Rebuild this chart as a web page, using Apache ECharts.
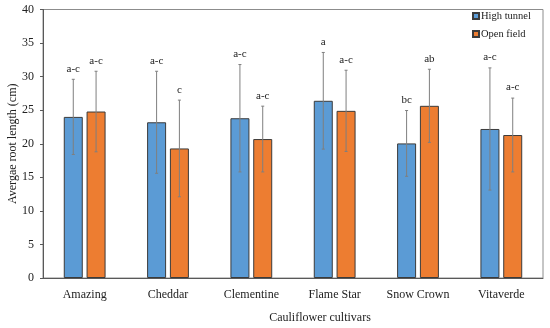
<!DOCTYPE html>
<html>
<head>
<meta charset="utf-8">
<script src="https://cdn.jsdelivr.net/npm/echarts@6/dist/echarts.min.js"></script>
<style>html,body{margin:0;padding:0;background:#fff;}#c{width:550px;height:328px;}</style>
</head>
<body>
<div id="c"></div>
<script>
const categories = ['Amazing', 'Cheddar', 'Clementine', 'Flame Star', 'Snow Crown', 'Vitaverde'];
const seriesNames = ['High tunnel', 'Open field'];
const highTunnel = [24.0, 23.2, 23.8, 26.4, 20.05, 22.2];
const highTunnelSD = [5.6, 7.6, 8.0, 7.2, 4.9, 9.1];
const highTunnelLetters = ['a-c', 'a-c', 'a-c', 'a', 'bc', 'a-c'];
const openField = [24.8, 19.3, 20.7, 24.9, 25.65, 21.3];
const openFieldSD = [6.0, 7.2, 4.9, 6.05, 5.45, 5.5];
const openFieldLetters = ['a-c', 'c', 'a-c', 'a-c', 'ab', 'a-c'];
const yTicks = [0, 5, 10, 15, 20, 25, 30, 35, 40];

const FONT = '"Liberation Serif", "Times New Roman", serif';
const BAR_W = 19;
const GAP = 0.2;
const colors = ['#5B9BD5', '#ED7D31'];

function errSeries(means, sds, letters, idx) {
  const data = means.map((m, i) => [i, m - sds[i], m + sds[i], letters[i]]);
  const offset = (idx === 0 ? -1 : 1) * (BAR_W * (1 + GAP)) / 2;
  return {
    type: 'custom',
    name: seriesNames[idx] + ' err',
    z: 5,
    silent: true,
    data: data,
    renderItem: function (params, api) {
      const i = api.value(0);
      const lo = api.coord([i, api.value(1)]);
      const hi = api.coord([i, api.value(2)]);
      const x = lo[0] + offset;
      const cap = 1.5;
      const st = { stroke: '#7f7f7f', lineWidth: 1 };
      return {
        type: 'group',
        children: [
          { type: 'line', shape: { x1: x, y1: lo[1], x2: x, y2: hi[1] }, style: st },
          { type: 'line', shape: { x1: x - cap, y1: lo[1], x2: x + cap, y2: lo[1] }, style: st },
          { type: 'line', shape: { x1: x - cap, y1: hi[1], x2: x + cap, y2: hi[1] }, style: st },
          { type: 'text', x: x, y: hi[1] - 5,
            style: { text: data[params.dataIndex][3], align: 'center', verticalAlign: 'bottom',
                     fill: '#222', font: '11px ' + FONT } }
        ]
      };
    }
  };
}

const chart = echarts.init(document.getElementById('c'), null, { renderer: 'canvas' });
chart.setOption({
  animation: false,
  backgroundColor: '#fff',
  textStyle: { fontFamily: FONT },
  grid: { left: 43, right: 7, top: 9.5, bottom: 50, show: true, borderColor: '#8c8c8c', borderWidth: 1,
          containLabel: false, outerBoundsMode: 'none' },
  legend: {
    data: seriesNames,
    orient: 'vertical',
    left: 472,
    top: 10,
    padding: 0,
    itemWidth: 6,
    itemHeight: 6,
    itemGap: 6,
    icon: 'rect',
    textStyle: { fontFamily: FONT, fontSize: 10.5, color: '#222', lineHeight: 12, padding: [0, 0, 0, -3] }
  },
  xAxis: {
    type: 'category',
    data: categories,
    name: 'Cauliflower cultivars',
    nameLocation: 'middle',
    nameGap: 34,
    nameMoveOverlap: false,
    nameTextStyle: { fontFamily: FONT, fontSize: 12, color: '#222', padding: [0, 0, 0, 54] },
    axisLine: { lineStyle: { color: '#595959', width: 1 } },
    axisTick: { show: false },
    axisLabel: { fontFamily: FONT, fontSize: 12, color: '#222', margin: 11, interval: 0 }
  },
  yAxis: {
    type: 'value',
    min: 0, max: 40, interval: 5,
    name: 'Avergae root length (cm)',
    nameLocation: 'middle',
    nameGap: 24,
    nameMoveOverlap: false,
    nameTextStyle: { fontFamily: FONT, fontSize: 12, color: '#222' },
    axisLine: { show: true, lineStyle: { color: '#595959', width: 1 } },
    axisTick: { show: true, length: 3, lineStyle: { color: '#595959' } },
    splitLine: { show: false },
    axisLabel: { fontFamily: FONT, fontSize: 12, color: '#222', margin: 9,
                 formatter: v => (yTicks.indexOf(v) >= 0 ? String(v) : '') }
  },
  series: [
    { type: 'bar', name: seriesNames[0], data: highTunnel, barWidth: BAR_W, barGap: (GAP * 100) + '%',
      itemStyle: { color: colors[0], borderColor: '#3b3b3b', borderWidth: 1 } },
    { type: 'bar', name: seriesNames[1], data: openField, barWidth: BAR_W,
      itemStyle: { color: colors[1], borderColor: '#3b3b3b', borderWidth: 1 } },
    errSeries(highTunnel, highTunnelSD, highTunnelLetters, 0),
    errSeries(openField, openFieldSD, openFieldLetters, 1)
  ]
});
</script>
</body>
</html>
